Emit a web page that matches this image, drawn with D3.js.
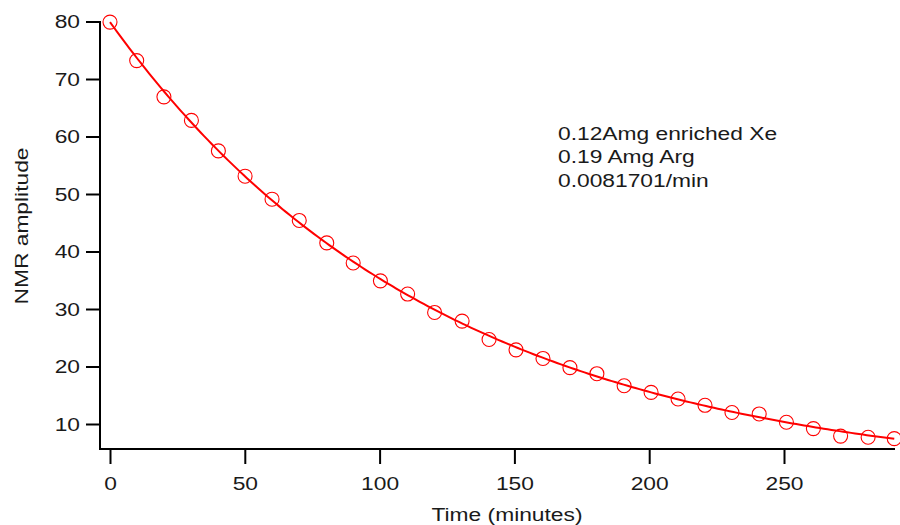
<!DOCTYPE html>
<html>
<head>
<meta charset="utf-8">
<script src="https://cdn.jsdelivr.net/npm/d3@7"></script>
<style>
  html, body { margin: 0; padding: 0; background: #fff; }
  svg { display: block; }
  text { font-family: "Liberation Sans", Arial, Helvetica, sans-serif; fill: #1a1a1a; }
</style>
</head>
<body>
<svg id="chart" width="900" height="525"></svg>
<script>
// Measured NMR signal decay of enriched Xe
const timeMin = [0, 9.9, 20.0, 30.2, 40.2, 50.1, 60.1, 70.2, 80.4, 90.2,
                 100.3, 110.4, 120.4, 130.6, 140.6, 150.6, 160.6, 170.6, 180.6, 190.7,
                 200.7, 210.7, 220.7, 230.7, 240.8, 250.9, 260.9, 271.0, 281.2, 290.9];
const amplitude = [79.9, 73.2, 66.9, 62.8, 57.5, 53.1, 49.1, 45.4, 41.5, 38.0,
                   34.9, 32.6, 29.4, 27.9, 24.7, 22.9, 21.4, 19.8, 18.75, 16.65,
                   15.5, 14.35, 13.25, 12.0, 11.75, 10.3, 9.2, 7.9, 7.7, 7.45];

// Single-exponential fit parameters
const fitAmplitude = 79.9;
const fitRate = 0.0081701; // per minute

const xTicks = [0, 50, 100, 150, 200, 250];
const yTicks = [10, 20, 30, 40, 50, 60, 70, 80];
const notes = ["0.12Amg enriched Xe", "0.19 Amg Arg", "0.0081701/min"];

const svg = d3.select("#chart");
const red = "#ff0000";
const fontSize = "19px";
const widen = 1.2; // horizontal stretch of the wide label face

// stretch a text horizontally while keeping its anchor x fixed
function stretch(sel) {
  sel.each(function () {
    const t = d3.select(this);
    const ax = +t.attr("x") || 0;
    const prev = t.attr("transform") || "";
    t.attr("transform", `${prev} translate(${ax * (1 - widen)},0) scale(${widen},1)`);
  });
}

const x = d3.scaleLinear().domain([0, 250]).range([110, 784]);
const y = d3.scaleLinear().domain([10, 80]).range([424, 21.5]);

const axisLeftX = 100, axisBottomY = 449, axisRightX = 895, axisTopY = 21;

// Left axis
const gy = svg.append("g").attr("transform", `translate(${axisLeftX},0)`);
gy.call(d3.axisLeft(y).tickValues(yTicks).tickSize(14).tickPadding(6).tickFormat(d3.format("d")));
gy.select(".domain").remove();
gy.append("line").attr("x1", 0).attr("x2", 0).attr("y1", axisTopY).attr("y2", axisBottomY + 1)
  .attr("stroke", "#000").attr("stroke-width", 2);
gy.selectAll(".tick line").attr("stroke", "#000").attr("stroke-width", 2);
gy.selectAll(".tick text").style("font-size", fontSize).attr("fill", "#1a1a1a")
  .style("font-family", '"Liberation Sans", Arial, sans-serif').call(stretch);

// Bottom axis
const gx = svg.append("g").attr("transform", `translate(0,${axisBottomY})`);
gx.call(d3.axisBottom(x).tickValues(xTicks).tickSize(15).tickPadding(13).tickFormat(d3.format("d")));
gx.select(".domain").remove();
gx.append("line").attr("x1", axisLeftX - 1).attr("x2", axisRightX).attr("y1", 0).attr("y2", 0)
  .attr("stroke", "#000").attr("stroke-width", 2);
gx.selectAll(".tick line").attr("stroke", "#000").attr("stroke-width", 2);
gx.selectAll(".tick text").style("font-size", fontSize).attr("fill", "#1a1a1a")
  .style("font-family", '"Liberation Sans", Arial, sans-serif').call(stretch);

// Axis titles
svg.append("text")
  .attr("transform", `translate(28,226) rotate(-90)`)
  .attr("text-anchor", "middle")
  .style("font-size", fontSize)
  .text("NMR amplitude")
  .call(stretch);
svg.append("text")
  .attr("x", 507).attr("y", 521)
  .attr("text-anchor", "middle")
  .style("font-size", fontSize)
  .text("Time (minutes)")
  .call(stretch);

// Fitted decay curve
const tMax = d3.max(timeMin);
const fitPts = d3.range(0, 201).map(i => {
  const t = tMax * i / 200;
  return [t, fitAmplitude * Math.exp(-fitRate * t)];
});
svg.append("path")
  .datum(fitPts)
  .attr("fill", "none")
  .attr("stroke", red)
  .attr("stroke-width", 2)
  .attr("d", d3.line().x(d => x(d[0])).y(d => y(d[1])));

// Data markers
svg.append("g").selectAll("circle")
  .data(timeMin.map((t, i) => [t, amplitude[i]]))
  .join("circle")
  .attr("cx", d => x(d[0]))
  .attr("cy", d => y(d[1]))
  .attr("r", 7)
  .attr("fill", "none")
  .attr("stroke", red)
  .attr("stroke-width", 1.1);

// Sample annotation
svg.append("g").selectAll("text")
  .data(notes)
  .join("text")
  .attr("x", 558)
  .attr("y", (d, i) => 140 + i * 23.5)
  .style("font-size", fontSize)
  .text(d => d)
  .call(stretch);
</script>
</body>
</html>
